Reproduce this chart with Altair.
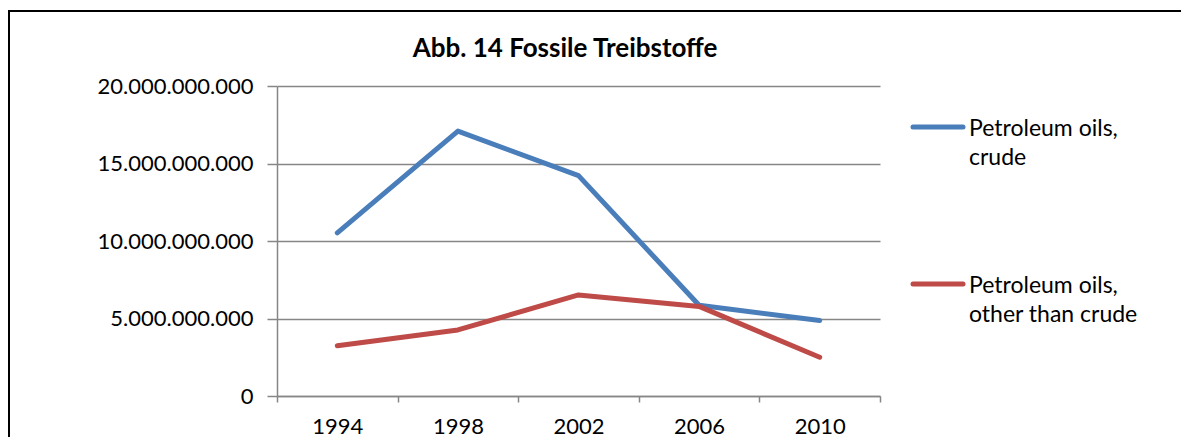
import altair as alt
import pandas as pd

years = ["1994", "1998", "2002", "2006", "2010"]
series_names = ["Petroleum oils, crude", "Petroleum oils, other than crude"]
crude = [10.52e9, 17.09e9, 14.22e9, 5.85e9, 4.87e9]
other = [3.24e9, 4.26e9, 6.52e9, 5.78e9, 2.50e9]
y_ticks = [0, 5e9, 10e9, 15e9, 20e9]
colors = ["#4A7EBB", "#BE4B48"]
title_text = "Abb. 14 Fossile Treibstoffe"

rows = []
for s, vals in zip(series_names, [crude, other]):
    for yr, v in zip(years, vals):
        rows.append({"series": s, "year": yr, "value": v})
df = pd.DataFrame(rows)
leg_df = pd.DataFrame({"series": series_names})

W, H = 603, 310
FONT = "Lato"
GRID = "#868686"

color = alt.Color("series:N", scale=alt.Scale(domain=series_names, range=colors), legend=None)

one = pd.DataFrame({"a": [0]})
frame_top = alt.Chart(one).mark_rule(stroke="black", strokeWidth=2).encode(
    x=alt.value(-268), x2=alt.value(904), y=alt.value(-75))
frame_left = alt.Chart(one).mark_rule(stroke="black", strokeWidth=2).encode(
    x=alt.value(-268), y=alt.value(-76), y2=alt.value(360))

lines = alt.Chart(df).mark_line(strokeWidth=5, strokeCap="round", strokeJoin="round").encode(
    x=alt.X("year:O", sort=years,
            scale=alt.Scale(type="band", paddingInner=0, paddingOuter=0),
            axis=alt.Axis(title=None, labelAngle=0, tickBand="extent", tickSize=6,
                          labelPadding=14, labelFontSize=22, labelFont=FONT,
                          labelColor="black", domainColor=GRID, tickColor=GRID,
                          domainWidth=1.5, tickWidth=1.5, grid=False)),
    y=alt.Y("value:Q", scale=alt.Scale(domain=[0, 2e10], nice=False),
            axis=alt.Axis(title=None, values=y_ticks,
                          labelExpr="replace(format(datum.value, ','), regexp(',', 'g'), '.')",
                          tickSize=10, labelPadding=14, labelFontSize=22, labelFont=FONT,
                          labelColor="black", domainColor=GRID, tickColor=GRID,
                          domainWidth=1.5, tickWidth=1.5, grid=True, gridColor=GRID,
                          gridWidth=1.5)),
    color=color,
)

leg_y = alt.Y("series:N", scale=alt.Scale(type="point", domain=series_names,
                                           range=[41, 198], padding=0), axis=None)
leg_sym = alt.Chart(leg_df).mark_rule(strokeWidth=5, strokeCap="round").encode(
    x=alt.value(636), x2=alt.value(686), y=leg_y, color=color)
leg_txt = alt.Chart(leg_df).transform_calculate(
    lines="[slice(datum.series, 0, 15), slice(datum.series, 16)]"
).mark_text(align="left", baseline="alphabetic", dy=9, lineHeight=29,
            fontSize=23, font=FONT, color="black").encode(
    x=alt.value(692), y=leg_y, text="lines:N")

title = alt.Chart(pd.DataFrame({"t": [title_text]})).mark_text(
    fontSize=26, fontWeight="bold", font=FONT, align="center",
    baseline="alphabetic", color="black"
).encode(x=alt.value(288), y=alt.value(-29), text="t:N")

chart = alt.layer(frame_top, frame_left, lines, leg_sym, leg_txt, title).resolve_scale(
    y="independent"
).properties(
    width=W, height=H,
    autosize=alt.AutoSizeParams(type="none"),
    padding={"left": 269, "top": 78, "right": 301, "bottom": 41},
).configure_view(stroke="transparent")

chart.save("out.html", embed_options={"renderer": "svg", "actions": False})
